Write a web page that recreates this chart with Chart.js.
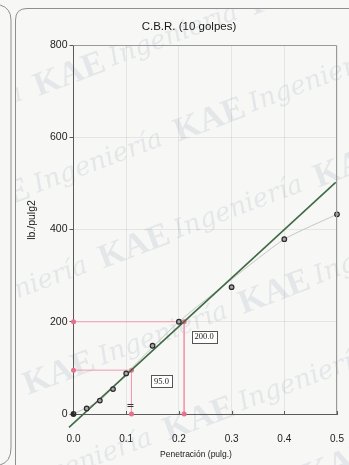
<!DOCTYPE html>
<html>
<head>
<meta charset="utf-8">
<script src="https://cdn.jsdelivr.net/npm/chart.js@4/dist/chart.umd.min.js"></script>
<style>
  html, body { margin: 0; padding: 0; background: #f7f7f5; }
  #wrap { position: relative; width: 349px; height: 465px; }
  canvas { display: block; }
</style>
</head>
<body>
<div id="wrap"><canvas id="cbr" width="349" height="465"></canvas></div>
<script>
// Penetration readings (in.) and measured load (lb/in²)
const penetration = [0, 0.025, 0.05, 0.075, 0.1, 0.15, 0.2, 0.3, 0.4, 0.5];
const load        = [0, 12, 29, 54, 88, 148, 200, 275, 379, 433];

// Smoothed load curve
const curveX = [0, 0.05, 0.1, 0.2, 0.3, 0.4, 0.5];
const curveY = [0, 29, 88, 200, 292, 379, 433];

// Corrected straight line (end points)
const fitX = [-0.0085, 0.4975];
const fitY = [-29, 502];

// Corrected penetration values and the loads
const guideX = [0.11, 0.21];
const guideY = [95, 200];

// Axis ticks
const xTicks = [0, 0.1, 0.2, 0.3, 0.4, 0.5];
const yTicks = [0, 200, 400, 600, 800];

const TITLE = 'C.B.R. (10 golpes)';
const X_TITLE = 'Penetración (pulg.)';
const Y_TITLE = 'lb./pulg2';
const WATERMARK = ['Ingeniería', 'KAE'];

const PINK = '#f19bb0';
const PINK_DOT = '#e7708c';

const pts = (xs, ys) => xs.map((x, i) => ({ x, y: ys[i] }));

const guideSets = guideX.map((gx, i) => ({
  label: 'guide' + i,
  data: [{ x: 0, y: guideY[i] }, { x: gx, y: guideY[i] }, { x: gx, y: 0 }],
  showLine: true,
  borderColor: PINK,
  borderWidth: 1,
  pointRadius: 2.5,
  pointBackgroundColor: PINK_DOT,
  pointBorderColor: PINK_DOT,
  pointBorderWidth: 0,
  clip: false,
  order: 4
}));

// page frame, background lettering, plot border, titles and value boxes
const decor = {
  id: 'decor',
  beforeDraw(chart) {
    const { ctx, width, height } = chart;
    ctx.save();
    ctx.fillStyle = '#f7f7f5';
    ctx.fillRect(0, 0, width, height);

    // background lettering
    ctx.save();
    ctx.beginPath();
    ctx.rect(15, 8, width, height);
    ctx.clip();
    ctx.translate(175, 232);
    ctx.rotate(-0.36);
    ctx.fillStyle = 'rgba(120,140,170,0.15)';
    ctx.textBaseline = 'middle';
    for (let r = -6; r <= 6; r++) {
      const y = r * 92;
      const off = (r % 2 === 0) ? 0 : 115;
      for (let k = -4; k <= 4; k++) {
        const x = k * 230 + off;
        ctx.font = "italic 26px 'DejaVu Serif'";
        ctx.fillText(WATERMARK[0], x, y);
        ctx.font = "bold 34px 'Liberation Serif'";
        ctx.fillText(WATERMARK[1], x + 150, y);
      }
    }
    ctx.restore();

    // panel frames
    ctx.strokeStyle = '#8f8f8f';
    ctx.lineWidth = 1;
    ctx.beginPath();
    ctx.moveTo(0, 5);
    ctx.quadraticCurveTo(11, 8, 11, 20);
    ctx.lineTo(11, 448);
    ctx.quadraticCurveTo(11, 462, 0, 465);
    ctx.stroke();
    ctx.beginPath();
    ctx.moveTo(width + 2, 8.5);
    ctx.lineTo(27, 8.5);
    ctx.quadraticCurveTo(15.5, 8.5, 15.5, 20);
    ctx.lineTo(15.5, height + 2);
    ctx.stroke();
    ctx.restore();
  },
  afterDatasetsDraw(chart) {
    const { ctx, chartArea: a, scales } = chart;
    ctx.save();
    // plot border (top and right)
    ctx.strokeStyle = '#9a9a9a';
    ctx.lineWidth = 1;
    ctx.beginPath();
    ctx.moveTo(a.left, a.top + 0.5);
    ctx.lineTo(a.right - 0.5, a.top + 0.5);
    ctx.lineTo(a.right - 0.5, a.bottom);
    ctx.stroke();

    // short inner tick marks on the penetration axis
    ctx.strokeStyle = '#5a5a5a';
    ctx.beginPath();
    xTicks.forEach(v => {
      const px = Math.round(scales.x.getPixelForValue(v)) + 0.5;
      ctx.moveTo(px, a.bottom);
      ctx.lineTo(px, a.bottom - 3);
    });
    ctx.stroke();

    // value boxes next to the corrected readings
    ctx.font = "8.5px 'Liberation Serif'";
    ctx.textAlign = 'center';
    ctx.textBaseline = 'middle';
    const offsets = [{ dx: 30, dy: 11 }, { dx: 20, dy: 15 }];
    guideX.forEach((gx, i) => {
      const px = scales.x.getPixelForValue(gx);
      const py = scales.y.getPixelForValue(guideY[i]);
      const txt = guideY[i].toFixed(1);
      const w = ctx.measureText(txt).width + 6;
      const cx = px + offsets[i].dx, cy = py + offsets[i].dy;
      ctx.fillStyle = '#ffffff';
      ctx.fillRect(cx - w / 2, cy - 6, w, 12);
      ctx.strokeStyle = '#555';
      ctx.strokeRect(Math.round(cx - w / 2) + 0.5, Math.round(cy - 6) + 0.5, Math.round(w), 12);
      ctx.fillStyle = '#222';
      ctx.fillText(txt, cx, cy + 0.5);
    });

    // small tick on the first corrected reading
    const mx = scales.x.getPixelForValue(guideX[0]);
    const my = scales.y.getPixelForValue(0);
    ctx.strokeStyle = '#333';
    ctx.beginPath();
    ctx.moveTo(mx - 4, my - 9.5); ctx.lineTo(mx + 2, my - 9.5);
    ctx.moveTo(mx - 4, my - 7.5); ctx.lineTo(mx + 2, my - 7.5);
    ctx.stroke();

    // titles
    ctx.fillStyle = '#1a1a1a';
    ctx.textAlign = 'center';
    ctx.textBaseline = 'middle';
    ctx.font = "11.5px 'Liberation Sans'";
    ctx.fillText(TITLE, 189, 27);
    ctx.font = "8.5px 'Liberation Sans'";
    ctx.fillText(X_TITLE, 196, 455);
    ctx.save();
    ctx.translate(32, 220);
    ctx.rotate(-Math.PI / 2);
    ctx.font = "10.5px 'Liberation Sans'";
    ctx.fillText(Y_TITLE, 0, 0);
    ctx.restore();
    ctx.restore();
  }
};

new Chart(document.getElementById('cbr'), {
  type: 'scatter',
  data: {
    datasets: [
      {
        label: 'Ensayo',
        data: pts(penetration, load),
        showLine: false,
        pointRadius: 2.3,
        pointBorderWidth: 1.2,
        pointBorderColor: '#2a2a2a',
        pointBackgroundColor: penetration.map((_, i) => i === 0 ? '#2a2a2a' : '#a6a6a6'),
        clip: false,
        order: 1
      },
      {
        label: 'Recta corregida',
        data: pts(fitX, fitY),
        showLine: true,
        borderColor: '#3f6a45',
        borderWidth: 1.6,
        pointRadius: 0,
        clip: false,
        order: 2
      },
      {
        label: 'Curva',
        data: pts(curveX, curveY),
        showLine: true,
        tension: 0.2,
        borderColor: '#c3c9c2',
        borderWidth: 1,
        pointRadius: 0,
        clip: false,
        order: 3
      },
      ...guideSets
    ]
  },
  options: {
    responsive: false,
    animation: false,
    devicePixelRatio: 1,
    layout: { padding: { top: 45, right: 12, left: 0, bottom: 0 } },
    plugins: { legend: { display: false }, tooltip: { enabled: false }, title: { display: false } },
    scales: {
      x: {
        type: 'linear',
        min: xTicks[0],
        max: xTicks[xTicks.length - 1],
        afterBuildTicks(s) { s.ticks = xTicks.map(v => ({ value: v })); },
        afterFit(s) { s.height = 51; },
        grid: { color: 'rgba(0,0,0,0.07)', drawTicks: true, tickLength: 19, tickColor: 'rgba(0,0,0,0)' },
        border: { color: '#5a5a5a', width: 1 },
        ticks: {
          padding: 0,
          color: '#222',
          font: { family: 'Liberation Sans', size: 10 },
          callback: v => Number(v).toFixed(1)
        }
      },
      y: {
        type: 'linear',
        min: yTicks[0],
        max: yTicks[yTicks.length - 1],
        afterBuildTicks(s) { s.ticks = yTicks.map(v => ({ value: v })); },
        afterFit(s) { s.width = 73.5; },
        grid: { color: 'rgba(0,0,0,0.07)', tickLength: 4, tickColor: '#5a5a5a' },
        border: { color: '#5a5a5a', width: 1 },
        ticks: {
          padding: 2,
          color: '#222',
          font: { family: 'Liberation Sans', size: 10.5 },
          callback: v => String(v)
        }
      }
    }
  },
  plugins: [decor]
});
</script>
</body>
</html>
